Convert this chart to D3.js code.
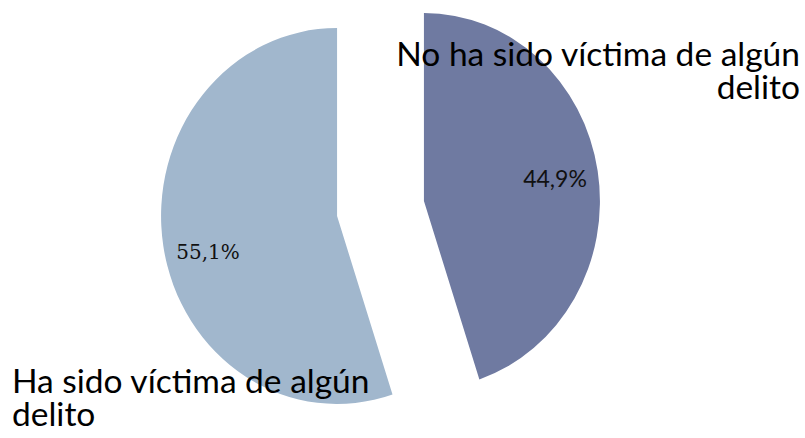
<!DOCTYPE html>
<html>
<head>
<meta charset="utf-8">
<script src="https://cdn.jsdelivr.net/npm/d3@7"></script>
<style>
  body { margin: 0; background: #fff; }
  svg { display: block; }
</style>
</head>
<body>
<div id="chart"></div>
<script>
// data
const categories = ["No ha sido víctima de algún delito", "Ha sido víctima de algún delito"];
const values = [44.9, 55.1];
const valueLabels = ["44,9%", "55,1%"];
const colors = ["#6F7AA1", "#A1B7CD"];

const width = 805, height = 438;
const cx = 380.5, cy = 208.5;
const radius = 176;
const yStretch = 188 / 176;
const explode = 44;

const svg = d3.select("#chart").append("svg")
    .attr("width", width)
    .attr("height", height);

const pie = d3.pie().sort(null).value(d => d)(values);
const arc = d3.arc().innerRadius(0).outerRadius(radius);

const g = svg.append("g")
    .attr("transform", "translate(" + cx + "," + cy + ")");

const slices = g.selectAll("g.slice")
    .data(pie)
    .enter()
    .append("g")
    .attr("class", "slice")
    .attr("transform", d => {
        let a = (d.startAngle + d.endAngle) / 2;
        let dx = explode * Math.sin(a);
        let dy = -explode * Math.cos(a) * yStretch;
        return "translate(" + dx + "," + dy + ") scale(1," + yStretch + ")";
    });

slices.append("path")
    .attr("d", arc)
    .attr("fill", (d, i) => colors[i]);

// percentage labels (placed in page coords)
const pctPos = [[555, 187], [208, 259]];
const pctFonts = ["Lato, 'Open Sans', sans-serif", "'DejaVu Serif', 'Liberation Serif', serif"];
svg.selectAll("text.pct")
    .data(valueLabels)
    .enter()
    .append("text")
    .attr("class", "pct")
    .attr("x", (d, i) => pctPos[i][0])
    .attr("y", (d, i) => pctPos[i][1])
    .attr("text-anchor", "middle")
    .style("font-family", (d, i) => pctFonts[i])
    .style("font-size", (d, i) => i === 0 ? "23px" : "20px")
    .attr("fill", "#111")
    .text(d => d);

// category labels, two lines each
const catLines = [["No ha sido víctima de algún", "delito"], ["Ha sido víctima de algún", "delito"]];
const catPos = [{x: 800, y: 66, anchor: "end"}, {x: 12, y: 393, anchor: "start"}];

catLines.forEach((lines, i) => {
    let t = svg.append("text")
        .attr("x", catPos[i].x)
        .attr("y", catPos[i].y)
        .attr("text-anchor", catPos[i].anchor)
        .style("font-family", "Lato, 'Open Sans', sans-serif")
        .style("font-size", "33.5px")
        .attr("fill", "#000");
    lines.forEach((line, j) => {
        t.append("tspan")
            .attr("x", catPos[i].x)
            .attr("dy", j === 0 ? 0 : 33)
            .text(line);
    });
});
</script>
</body>
</html>
